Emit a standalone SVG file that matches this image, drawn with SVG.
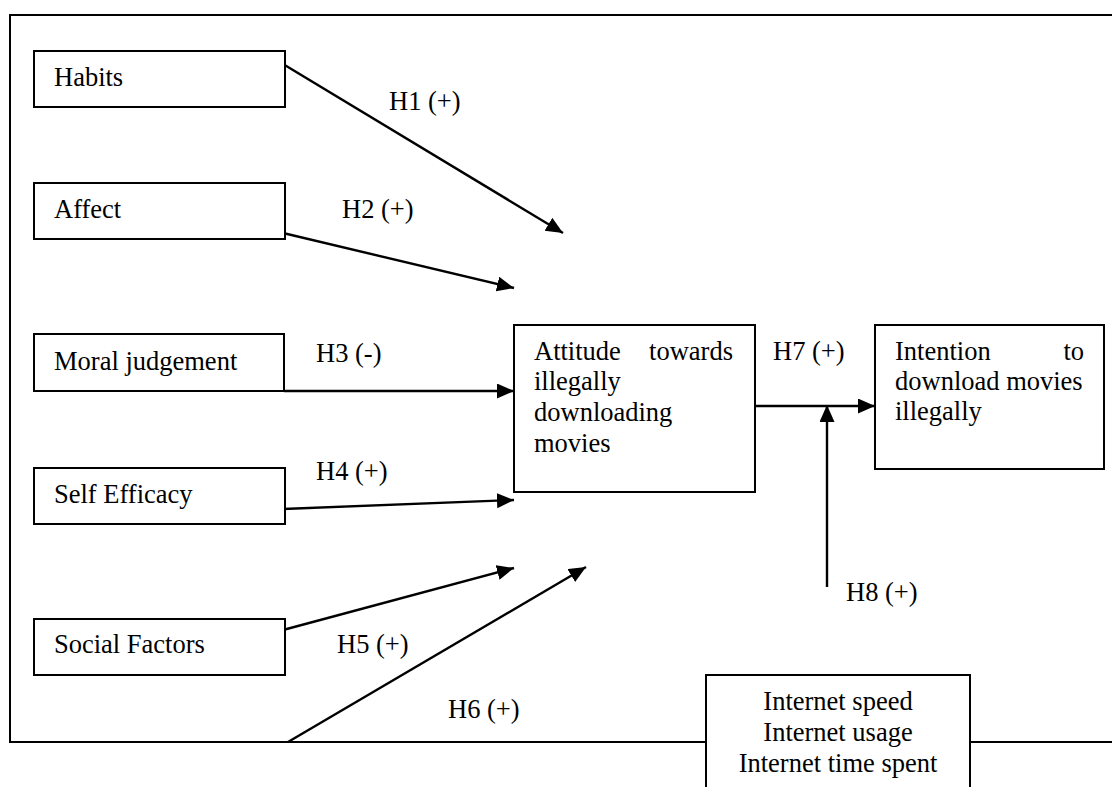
<svg xmlns="http://www.w3.org/2000/svg" width="1112" height="787" viewBox="0 0 1112 787">
<style>
  .box { fill: #ffffff; stroke: #000000; stroke-width: 2; }
  .frame { fill: none; stroke: #000000; stroke-width: 2; }
  .t { font-family: "Liberation Serif", "Times New Roman", serif; font-size: 26.5px; fill: #000000; }
  .c { stroke: #000000; stroke-width: 2.4; fill: none; marker-end: url(#ah); }
</style>
<defs>
  <marker id="ah" markerUnits="userSpaceOnUse" markerWidth="18" markerHeight="16" refX="17" refY="7.5" orient="auto">
    <path d="M0,0 L17,7.5 L0,15 Z" fill="#000000"/>
  </marker>
</defs>
<rect width="1112" height="787" fill="#ffffff"/>
<path class="frame" d="M1115,15 H10 V742 H1115"/>

<g id="connectors">
  <line class="c" x1="283" y1="64" x2="563" y2="233"/>
  <line class="c" x1="283" y1="233" x2="514" y2="288"/>
  <line class="c" x1="284" y1="391" x2="514" y2="391"/>
  <line class="c" x1="283" y1="509" x2="514" y2="500"/>
  <line class="c" x1="283" y1="630" x2="514" y2="568"/>
  <line class="c" x1="288" y1="742" x2="586" y2="567"/>
  <line class="c" x1="755" y1="406" x2="875" y2="406"/>
  <line class="c" x1="827" y1="587" x2="827" y2="405"/>
  <text class="t" x="389" y="110">H1 (+)</text>
  <text class="t" x="342" y="218">H2 (+)</text>
  <text class="t" x="316" y="362">H3 (-)</text>
  <text class="t" x="316" y="480">H4 (+)</text>
  <text class="t" x="337" y="653">H5 (+)</text>
  <text class="t" x="448" y="718">H6 (+)</text>
  <text class="t" x="773" y="360">H7 (+)</text>
  <text class="t" x="846" y="601">H8 (+)</text>
</g>

<g id="habits">
  <rect class="box" x="34" y="51" width="251" height="56"/>
  <text class="t" x="54" y="86">Habits</text>
</g>
<g id="affect">
  <rect class="box" x="34" y="183" width="251" height="56"/>
  <text class="t" x="54" y="218">Affect</text>
</g>
<g id="moral">
  <rect class="box" x="34" y="334" width="250" height="57"/>
  <text class="t" x="54" y="370">Moral judgement</text>
</g>
<g id="selfefficacy">
  <rect class="box" x="34" y="468" width="251" height="56"/>
  <text class="t" x="54" y="503">Self Efficacy</text>
</g>
<g id="social">
  <rect class="box" x="34" y="619" width="251" height="56"/>
  <text class="t" x="54" y="653">Social Factors</text>
</g>
<g id="attitude">
  <rect class="box" x="514" y="325" width="241" height="167"/>
  <text class="t" x="534" y="360">Attitude</text>
  <text class="t" x="733" y="360" text-anchor="end">towards</text>
  <text class="t" x="534" y="390">illegally</text>
  <text class="t" x="534" y="421">downloading</text>
  <text class="t" x="534" y="452">movies</text>
</g>
<g id="intention">
  <rect class="box" x="875" y="325" width="229" height="144"/>
  <text class="t" x="895" y="360">Intention</text>
  <text class="t" x="1084" y="360" text-anchor="end">to</text>
  <text class="t" x="895" y="390">download movies</text>
  <text class="t" x="895" y="420">illegally</text>
</g>
<g id="internet">
  <path class="box" d="M706,790 V675 H970 V790"/>
  <text class="t" x="838" y="710" text-anchor="middle">Internet speed</text>
  <text class="t" x="838" y="741" text-anchor="middle">Internet usage</text>
  <text class="t" x="838" y="772" text-anchor="middle">Internet time spent</text>
</g>
</svg>
